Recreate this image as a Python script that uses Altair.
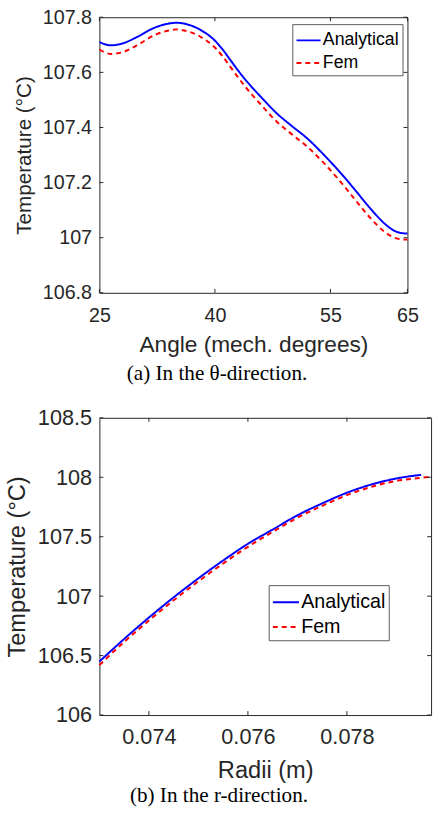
import altair as alt
import pandas as pd

# ---------------- data ----------------
series_names = ["Analytical", "Fem"]
series_colors = ["#0000ff", "#ff0000"]
series_dashes = [[1, 0], [5, 4]]

# (a) theta-direction
angle_deg = [25, 26.5, 28, 30, 32, 34, 35, 36, 38, 40, 41, 42, 43, 44, 45, 46,
             48, 50, 52, 54, 56, 58, 60, 62, 63, 64, 65]
temp_theta_analytical = [107.710, 107.698, 107.705, 107.730, 107.760, 107.777,
                         107.780, 107.777, 107.756, 107.715, 107.683, 107.645,
                         107.607, 107.572, 107.540, 107.510, 107.452, 107.405,
                         107.360, 107.305, 107.245, 107.180, 107.112, 107.052,
                         107.030, 107.018, 107.015]
temp_theta_fem = [107.683, 107.667, 107.673, 107.700, 107.733, 107.752, 107.756,
                  107.752, 107.731, 107.690, 107.658, 107.620, 107.582, 107.546,
                  107.513, 107.482, 107.422, 107.375, 107.330, 107.275, 107.213,
                  107.145, 107.077, 107.022, 107.004, 106.995, 106.993]

# (b) r-direction
radius_analytical = [0.0730, 0.0735, 0.0740, 0.0745, 0.0750, 0.0755, 0.0760,
                     0.0765, 0.0770, 0.0775, 0.0780, 0.0785, 0.0790, 0.0795]
temp_r_analytical = [106.45, 106.64, 106.82, 106.99, 107.15, 107.30, 107.44,
                     107.56, 107.68, 107.78, 107.87, 107.94, 107.99, 108.02]
radius_fem = [0.0730, 0.0735, 0.0740, 0.0745, 0.0750, 0.0755, 0.0760, 0.0765,
              0.0770, 0.0775, 0.0780, 0.0785, 0.0790, 0.0795, 0.0797]
temp_r_fem = [106.42, 106.615, 106.795, 106.965, 107.125, 107.275, 107.415,
              107.54, 107.66, 107.76, 107.85, 107.92, 107.97, 107.995, 108.005]

theta_x_ticks = [25, 40, 55, 65]
theta_y_ticks = [106.8, 107, 107.2, 107.4, 107.6, 107.8]
r_x_ticks = [0.074, 0.076, 0.078]
r_y_ticks = [106, 106.5, 107, 107.5, 108, 108.5]

AX = "#262626"
SANS = "Liberation Sans"
SERIF = "Liberation Serif"


def panel(xs, ys, xdomain, ydomain, xticks, yticks, W, H,
          xtitle, ytitle, caption, cap_dx, cap_offset, tick_fs, xtitle_fs,
          ytitle_fs, xlab_pad, xtitle_pad, leg_fs, leg_x, leg_y, leg_sym):
    rows = []
    for name, xv, yv in zip(series_names, xs, ys):
        for a, b in zip(xv, yv):
            rows.append({"x": a, "T": b, "series": name})
    df = pd.DataFrame(rows)
    xscale = alt.Scale(domain=xdomain, nice=False, zero=False)
    yscale = alt.Scale(domain=ydomain, nice=False, zero=False)
    xaxis = alt.Axis(values=xticks, format="~f", ticks=False, tickSize=0,
                     domain=False, grid=False, labelPadding=xlab_pad,
                     labelFlush=False, labelOverlap=False,
                     labelFontSize=tick_fs, titleFontSize=xtitle_fs,
                     titlePadding=xtitle_pad)
    yaxis = alt.Axis(values=yticks, format="~f", ticks=False, tickSize=0,
                     domain=False, grid=False, labelPadding=8,
                     labelFlush=False, labelOverlap=False,
                     labelFontSize=tick_fs, titleFontSize=ytitle_fs,
                     titlePadding=8)
    legend = alt.Legend(
        title=None, orient="none", legendX=leg_x, legendY=leg_y,
        symbolType="stroke", symbolSize=leg_sym, symbolStrokeWidth=2,
        labelFont=SANS, labelFontSize=leg_fs, labelColor="black",
        labelOffset=1, fillColor="white", strokeColor="#5a5a5a",
        padding=3, rowPadding=0, symbolOffset=0)
    lines = alt.Chart(df).mark_line(strokeWidth=2, interpolate="monotone").encode(
        x=alt.X("x:Q", scale=xscale, title=xtitle, axis=xaxis),
        y=alt.Y("T:Q", scale=yscale, title=ytitle, axis=yaxis),
        color=alt.Color("series:N", sort=series_names,
                        scale=alt.Scale(domain=series_names, range=series_colors),
                        legend=legend),
        strokeDash=alt.StrokeDash("series:N", sort=series_names,
                                  scale=alt.Scale(domain=series_names,
                                                  range=series_dashes),
                                  legend=legend),
    )
    tl = 4
    xt = pd.DataFrame({"x": xticks})
    yt = pd.DataFrame({"T": yticks})
    xb = alt.Chart(xt).mark_rule(color=AX, strokeWidth=1).encode(
        x=alt.X("x:Q", scale=xscale, title=xtitle, axis=xaxis),
        y=alt.value(H), y2=alt.value(H - tl))
    xtp = alt.Chart(xt).mark_rule(color=AX, strokeWidth=1).encode(
        x=alt.X("x:Q", scale=xscale, title=xtitle, axis=xaxis),
        y=alt.value(0), y2=alt.value(tl))
    yl = alt.Chart(yt).mark_rule(color=AX, strokeWidth=1).encode(
        y=alt.Y("T:Q", scale=yscale, title=ytitle, axis=yaxis),
        x=alt.value(0), x2=alt.value(tl))
    yr = alt.Chart(yt).mark_rule(color=AX, strokeWidth=1).encode(
        y=alt.Y("T:Q", scale=yscale, title=ytitle, axis=yaxis),
        x=alt.value(W), x2=alt.value(W - tl))
    return alt.layer(lines, xb, xtp, yl, yr).properties(
        width=W, height=H,
        title=alt.TitleParams(caption, orient="bottom", font=SERIF,
                              fontSize=21.5, fontWeight="normal", color="black",
                              anchor="middle", frame="group", dx=cap_dx,
                              offset=cap_offset),
    )


pa = panel([angle_deg, angle_deg], [temp_theta_analytical, temp_theta_fem],
           [25, 65], [106.8, 107.8], theta_x_ticks, theta_y_ticks,
           313, 280, "Angle (mech. degrees)", "Temperature (°C)",
           "(a) In the θ-direction.", -37, 7, 20, 23, 21, 13, 9,
           18, 196, 7, 600)

pb = panel([radius_analytical, radius_fem], [temp_r_analytical, temp_r_fem],
           [0.073, 0.0797], [106, 108.5], r_x_ticks, r_y_ticks,
           337, 302, "Radii (m)", "Temperature (°C)",
           "(b) In the r-direction.", -47, 3, 22, 24, 24, 12, 11,
           20, 172, 170, 700)

chart = alt.vconcat(pa, pb, spacing=21).resolve_scale(
    color="independent", strokeDash="independent", x="independent",
    y="independent").resolve_legend(
    color="independent", strokeDash="independent").properties(
    padding={"left": 5, "top": 0, "right": 0, "bottom": 0},
    background="white",
).configure_view(stroke=AX, strokeWidth=1).configure_axis(
    labelFont=SANS, titleFont=SANS, labelColor=AX, titleColor=AX,
    titleFontWeight="normal")

chart.save("out.html", embed_options={"renderer": "svg", "actions": False})
